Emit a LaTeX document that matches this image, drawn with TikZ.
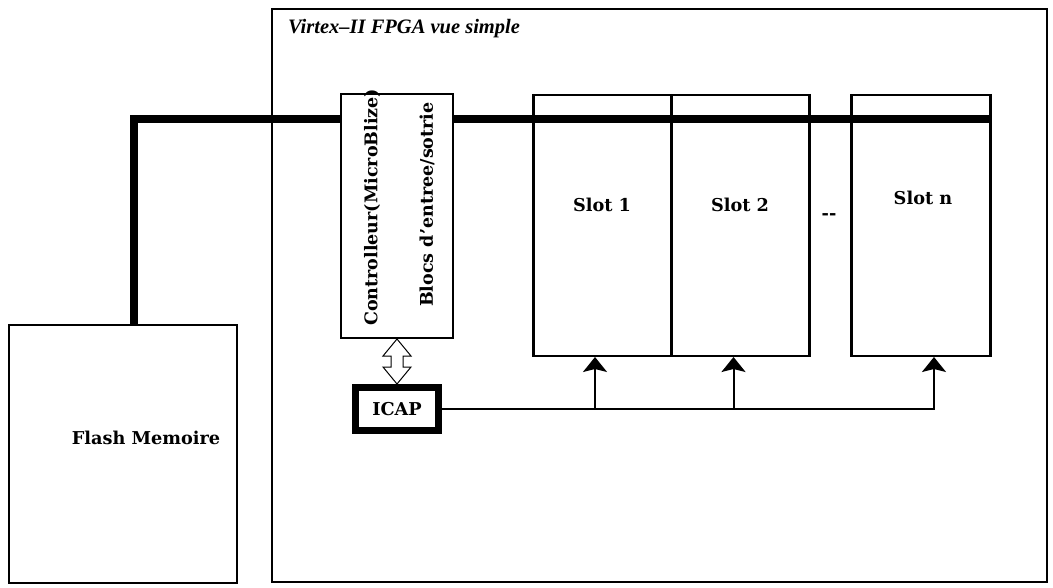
\documentclass[tikz,border=0pt]{standalone}
\usepackage{fontspec}
\setmainfont{DejaVu Serif}
\newfontfamily\titlefont{Liberation Serif}
\usetikzlibrary{arrows.meta,calc}

\begin{document}
\begin{tikzpicture}[x=1pt,y=-1pt,
		blk/.style={draw,line width=2pt,fill=white,inner sep=0pt},
		lbl/.style={font=\fontsize{17.7}{20}\selectfont\bfseries,inner sep=0pt},
		vlbl/.style={font=\fontsize{17.5}{20}\selectfont\bfseries,inner sep=0pt,rotate=90,anchor=west},
		bus/.style={line width=8.5pt},
		wire/.style={line width=2pt},
		tip/.style={-{Stealth[length=15pt,width=24pt,inset=3pt]}}]
		\useasboundingbox (0,0) rectangle (1053,588);
		% boxes
		\node[blk,minimum width=775,minimum height=573] (fpga) at (659.5,295.5) {};
		\node[anchor=base west,inner sep=0pt,font=\titlefont\fontsize{20.5}{22}\selectfont\bfseries\itshape] (title) at (288,34) {Virtex\textendash II FPGA vue simple};
		\node[blk,minimum width=228,minimum height=258] (flash) at (123,454) {};
		\node[lbl] (flashtxt) at (146,438) {Flash Memoire};
		\node[blk,minimum width=138,minimum height=261] (slot1) at (603,225.5) {};
		\node[blk,minimum width=137,minimum height=261] (slot2) at (740.5,225.5) {};
		\node[blk,minimum width=138,minimum height=261] (slotn) at (921,225.5) {};
		% bus
		\coordinate (busstart) at ([xshift=11pt]flash.north);
		\coordinate (busend) at (slotn.east |- 0,119);
		\draw[bus] (busstart) -- (busstart |- busend) -- (busend);
		\draw[wire] (slot1.north west) -- (slot1.south west) (slot2.north west) -- (slot2.south west);
		\draw[wire] (slot2.north east) -- (slot2.south east) (slotn.north west) -- (slotn.south west) (slotn.north east) -- (slotn.south east);
		\node[lbl] (s1txt) at (602,205) {Slot 1};
		\node[lbl] (s2txt) at (740,205) {Slot 2};
		\node[lbl] (sntxt) at (923,198) {Slot n};
		\node[lbl] (dots) at (829,217) {-{}-};
		% controleur
		\node[blk,minimum width=112,minimum height=244] (ctrl) at (397,216) {};
		\node[vlbl] (ctrltxt) at (372,326) {Controlleur(MicroBlize)};
		\node[vlbl] (iotxt) at (427,307) {Blocs d'entree/sotrie};
		% icap
		\node[draw,line width=7pt,minimum width=83,minimum height=43,inner sep=0pt,lbl] (icap) at (397,409) {ICAP};
		\draw[line width=1pt,fill=white] (ctrl.south) -- ++(14,17) -- ++(-8,0) -- ++(0,11) -- ++(8,0)
			-- (icap.north) -- ++(-14,-17) -- ++(8,0) -- ++(0,-11) -- ++(-8,0) -- cycle;
		% connexions
		\coordinate (b1) at ([xshift=-8pt]slot1.south);
		\coordinate (b2) at ([xshift=-7pt]slot2.south);
		\coordinate (bn) at ([xshift=13pt]slotn.south);
		\draw[wire,tip] (icap.east) -| (bn);
		\draw[wire,tip] (b1 |- icap.east) -- (b1);
		\draw[wire,tip] (b2 |- icap.east) -- (b2);
	\end{tikzpicture}
\end{document}
